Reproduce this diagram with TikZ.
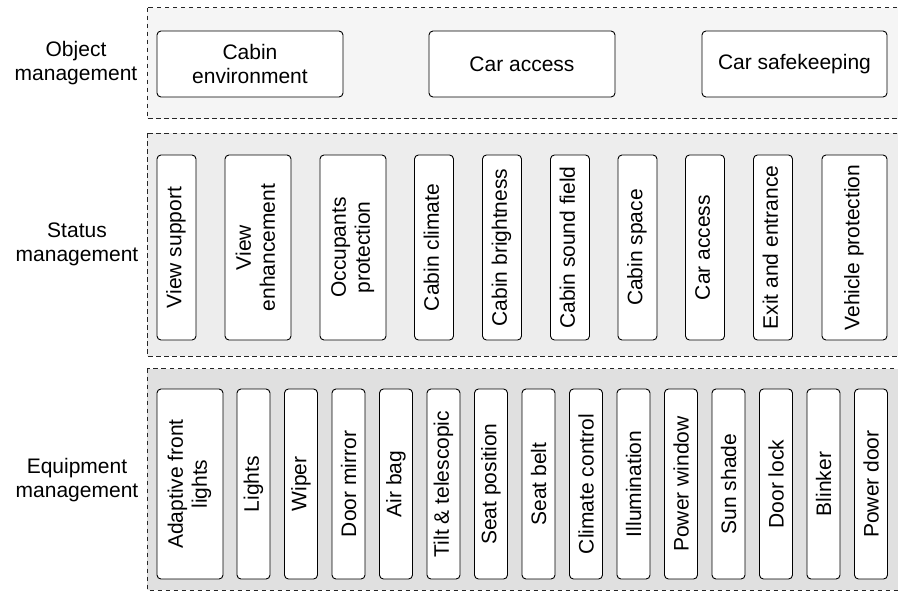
\documentclass[tikz,border=0pt]{standalone}
\usepackage{fontspec}
\setmainfont{Liberation Sans}
\begin{document}
\begin{tikzpicture}[x=1pt,y=-1pt,
  band/.style={draw=black!85, line width=0.9pt, dash pattern=on 4.5pt off 3.5pt},
  item/.style={draw=black, fill=white, line width=0.9pt, rounded corners=4pt,
    inner sep=0pt, align=center, font=\fontsize{21}{24}\selectfont},
  layertitle/.style={align=center, font=\fontsize{21}{24}\selectfont}]
\useasboundingbox (0,0) rectangle (898,592);
\fill[white] (0,0) rectangle (898,592);

% layer bands
\path[band, fill=black!4]  (147,7.5)   rectangle (899,118.5);
\path[band, fill=black!7]  (147,133)   rectangle (899,356);
\path[band, fill=black!12] (147,368.5) rectangle (899,590);

% layer titles
\node[layertitle] (tobj) at (76,63)  {Object\\management};
\node[layertitle] (tsta) at (77,244) {Status\\management};
\node[layertitle] (tequ) at (77,480) {Equipment\\management};

% object management
\node[item, minimum width=186pt, minimum height=66pt] (o1) at (250,64) {Cabin\\environment};
\node[item, minimum width=186pt, minimum height=66pt] (o2) at (522,64) {Car access};
\node[item, minimum width=185pt, minimum height=66pt] (o3) at (794.5,64) {Car safekeeping};

% status management
\foreach \cx/\w/\txt [count=\i] in {
  176.5/39/{View support},
  258/66/{View\\enhancement},
  353/66/{Occupants\\protection},
  434/39/{Cabin climate},
  502/39/{Cabin brightness},
  570/39/{Cabin sound field},
  637.5/39/{Cabin space},
  705/39/{Car access},
  773/39/{Exit and entrance},
  854.5/65/{Vehicle protection}}
  \node[item, minimum width=\w pt, minimum height=185pt] (s\i) at (\cx,247.5)
    {\rotatebox{90}{\begin{tabular}{@{}c@{}}\txt\end{tabular}}};

% equipment management
\node[item, minimum width=66pt, minimum height=190pt] (e0) at (190,484)
  {\rotatebox{90}{\begin{tabular}{@{}c@{}}Adaptive front\\lights\end{tabular}}};
\foreach \txt [count=\i from 0] in {Lights, Wiper, Door mirror, Air bag,
  Tilt \& telescopic, Seat position, Seat belt, Climate control, Illumination,
  Power window, Sun shade, Door lock, Blinker, Power door}
  \node[item, minimum width=33pt, minimum height=190pt] (e\the\numexpr\i+1\relax)
    at ({253.5+47.5*\i},484) {\rotatebox{90}{\txt}};
\end{tikzpicture}
\end{document}
